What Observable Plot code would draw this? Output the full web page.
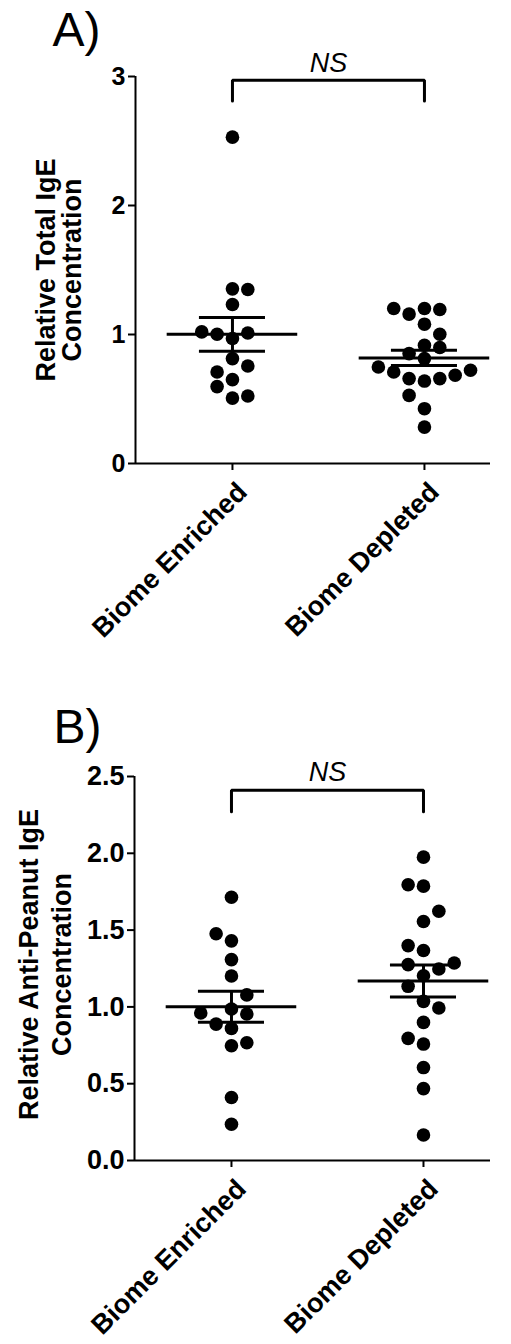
<!DOCTYPE html>
<html>
<head>
<meta charset="utf-8">
<script src="https://cdn.jsdelivr.net/npm/d3@7"></script>
<script src="https://cdn.jsdelivr.net/npm/@observablehq/plot@0.6"></script>
<style>
  html, body { margin: 0; padding: 0; background: #fff; }
  #wrap { width: 511px; }
  #wrap svg { display: block; }
</style>
</head>
<body>
<div id="wrap"></div>
<script>
// ---------- data ----------
const categories = ["Biome Enriched", "Biome Depleted"];

// Panel A: Relative Total IgE
const totalEnriched    = [2.53, 1.354, 1.349, 1.233, 1.02, 1.002, 1.012, 0.969, 0.813, 0.756, 0.709, 0.650, 0.596, 0.507, 0.523];
const totalEnrichedCol = [0, 0, 1, 0, -2, -1, 1, 0, 0, 1, -1, 0, -1, 0, 1];
const totalDepleted    = [1.202, 1.158, 1.202, 1.194, 1.080, 1.002, 0.917, 0.899, 0.852, 0.813, 0.748, 0.709, 0.658, 0.639, 0.658, 0.684, 0.723, 0.528, 0.425, 0.282];
const totalDepletedCol = [-2, -1, 0, 1, 0, 1, 0, 1, -1, 0, -3, -2, -1, 0, 1, 2, 3, -1, 0, 0];

// Panel B: Relative Anti-Peanut IgE
const peanutEnriched    = [1.714, 1.476, 1.430, 1.308, 1.201, 1.078, 0.986, 0.960, 0.954, 0.888, 0.860, 0.747, 0.767, 0.410, 0.236];
const peanutEnrichedCol = [0, -1, 0, 0, 0, 1, 0, -2, 1, -1, 0, 0, 1, 0, 0];
const peanutDepleted    = [1.975, 1.795, 1.786, 1.623, 1.556, 1.399, 1.367, 1.275, 1.286, 1.247, 1.203, 1.134, 1.036, 0.993, 0.899, 0.795, 0.758, 0.605, 0.468, 0.166];
const peanutDepletedCol = [0, -1, 0, 1, 0, -1, 0, -1, 2, 1, 0, -1, 0, 1, 0, -1, 0, 0, 0, 0];

const yTicksA = [0, 1, 2, 3];
const yTicksB = [0, 0.5, 1.0, 1.5, 2.0, 2.5];
const yTitleA = "Relative Total IgE\nConcentration";
const yTitleB = "Relative Anti-Peanut IgE\nConcentration";
const sigLabel = "NS";
// significance bracket levels (top, leg end) in data units
const bracketA = [2.97, 2.81];
const bracketB = [2.41, 2.27];

// ---------- helpers ----------
const FONT = "'Liberation Sans', Arial, Helvetica, sans-serif";
const COL = 0.08; // jitter column width in x-domain units

function points(groups) {
  const out = [];
  groups.forEach(([vals, cols], g) => vals.forEach((v, i) => out.push({g, value: v, col: cols[i]})));
  return out;
}
function stats(groups) {
  return groups.map(([vals], g) => {
    const m = d3.mean(vals);
    const sem = d3.deviation(vals) / Math.sqrt(vals.length);
    return {g, mean: m, lo: m - sem, hi: m + sem};
  });
}

function panel({groups, yTicks, yFmt, title, letter, bracket, height, marginTop, marginBottom, marginLeft, xDomain,
                tickFont, titleFont, titleLH, titleDx, titleDy, letterDx, letterDy, nsDy, labelFont, labelDx, labelDy}) {
  const pts = points(groups);
  const st = stats(groups);
  const yMax = yTicks[yTicks.length - 1];
  const [bt, bl] = bracket;
  const bracketPts = [{x: 0, y: bl}, {x: 0, y: bt}, {x: 1, y: bt}, {x: 1, y: bl}];
  return Plot.plot({
    width: 511,
    height,
    marginTop, marginBottom, marginLeft, marginRight: 21,
    style: {fontFamily: FONT, background: "white", color: "black", overflow: "visible"},
    x: {type: "linear", domain: xDomain},
    y: {domain: [0, yMax]},
    marks: [
      // axes
      Plot.ruleY([0], {stroke: "black", strokeWidth: 2}),
      Plot.ruleX([xDomain[0]], {y1: 0, y2: yMax, stroke: "black", strokeWidth: 2}),
      Plot.axisY(yTicks, {tickSize: 7, tickPadding: 3, strokeWidth: 2, fontSize: tickFont, fontWeight: "bold",
                          tickFormat: yFmt, label: null, fill: "black"}),
      Plot.axisX([0, 1], {tickSize: 7, strokeWidth: 2, tickFormat: () => "", label: null}),
      Plot.text(categories, {x: (d, i) => i, frameAnchor: "bottom", text: d => d, rotate: -45,
                             textAnchor: "end", lineAnchor: "middle", dx: labelDx, dy: labelDy,
                             fontSize: labelFont, fontWeight: "bold", fill: "black"}),
      // y title and panel letter
      Plot.text([title], {frameAnchor: "left", text: d => d, rotate: -90, textAnchor: "middle", lineAnchor: "middle",
                          dx: titleDx, dy: titleDy, fontSize: titleFont,
                          fontWeight: "bold", lineHeight: titleLH, fill: "black"}),
      Plot.text([letter], {frameAnchor: "top-left", text: d => d, dx: letterDx, dy: letterDy, textAnchor: "start",
                           lineAnchor: "bottom", fontSize: 48, fill: "black"}),
      // scatter
      Plot.dot(pts, {x: d => d.g + d.col * COL, y: "value", r: 6.8, fill: "black", stroke: "none"}),
      // mean and SEM
      Plot.ruleY(st, {y: "mean", x1: d => d.g - 0.34, x2: d => d.g + 0.34, stroke: "black", strokeWidth: 3}),
      Plot.ruleY(st, {y: "hi", x1: d => d.g - 0.172, x2: d => d.g + 0.172, stroke: "black", strokeWidth: 3}),
      Plot.ruleY(st, {y: "lo", x1: d => d.g - 0.172, x2: d => d.g + 0.172, stroke: "black", strokeWidth: 3}),
      Plot.ruleX(st, {x: "g", y1: "lo", y2: "hi", stroke: "black", strokeWidth: 3}),
      // significance bracket
      Plot.line(bracketPts, {x: "x", y: "y", stroke: "black", strokeWidth: 3, strokeLinejoin: "miter"}),
      Plot.text([sigLabel], {x: () => 0.5, y: () => bt, text: d => d, dy: nsDy, lineAnchor: "bottom",
                             fontSize: 27, fontStyle: "italic", fill: "black"})
    ]
  });
}

const wrap = document.getElementById("wrap");

wrap.appendChild(panel({
  groups: [[totalEnriched, totalEnrichedCol], [totalDepleted, totalDepletedCol]],
  yTicks: yTicksA, yFmt: d3.format("d"), title: yTitleA, letter: "A)", bracket: bracketA,
  height: 680, marginTop: 76, marginBottom: 217, marginLeft: 135, xDomain: [-0.505, 1.344],
  tickFont: 25, titleFont: 27, titleLH: 0.93, titleDx: -75.5, titleDy: 0, letterDx: -83, letterDy: -31, nsDy: -8,
  labelFont: 27, labelDx: 10, labelDy: 24
}));

wrap.appendChild(panel({
  groups: [[peanutEnriched, peanutEnrichedCol], [peanutDepleted, peanutDepletedCol]],
  yTicks: yTicksB, yFmt: d3.format(".1f"), title: yTitleB, letter: "B)", bracket: bracketB,
  height: 664, marginTop: 96, marginBottom: 184, marginLeft: 134, xDomain: [-0.505, 1.349],
  tickFont: 27, titleFont: 27, titleLH: 1.22, titleDx: -90.5, titleDy: -4, letterDx: -81, letterDy: -34, nsDy: -9,
  labelFont: 27, labelDx: 10, labelDy: 24
}));
</script>
</body>
</html>
